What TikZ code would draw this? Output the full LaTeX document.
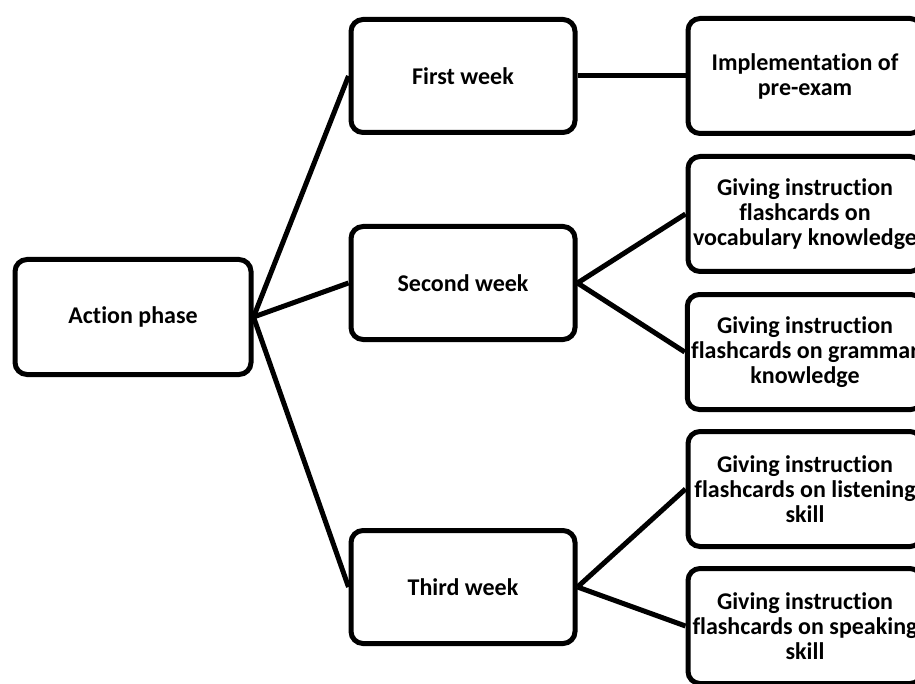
\documentclass[tikz,border=0pt]{standalone}
\usepackage{fontspec}
\setmainfont[Ligatures=NoCommon]{Carlito}
\usetikzlibrary{positioning}

\begin{document}
\begin{tikzpicture}[
  x=0.5pt, y=-0.5pt,
  box/.style={draw=black, line width=2.5pt, rounded corners=6pt, fill=white, align=center,
              font=\bfseries\fontsize{12}{12.5}\selectfont, inner sep=2pt},
  phasebox/.style={box, minimum width=118pt, minimum height=57.5pt},
  weekbox/.style={box, minimum width=112pt, minimum height=56.5pt},
  taskbox/.style={box, minimum width=117pt, minimum height=57.5pt},
  link/.style={line width=2.5pt, draw=black}
]
\clip (0,0) rectangle (915,684);
\fill[white] (0,0) rectangle (915,684);

% root
\node[phasebox] (action) at (133,317) {Action phase};

% weeks
\node[weekbox] (week1) at (463,76) {First week};
\node[weekbox] (week2) at (463,283) {Second week};
\node[weekbox] (week3) at (463,587) {Third week};

% tasks
\node[taskbox] (exam) at (805,76) {Implementation of\\pre-exam};
\node[taskbox] (vocab) at (805,214) {Giving instruction\\flashcards on\\vocabulary knowledge};
\node[taskbox] (gram) at (805,352) {Giving instruction\\flashcards on grammar\\knowledge};
\node[taskbox] (listen) at (805,489) {Giving instruction\\flashcards on listening\\skill};
\node[taskbox] (speak) at (805,626) {Giving instruction\\flashcards on speaking\\skill};

% connectors
\draw[link] (action.east) -- (week1.west);
\draw[link] (action.east) -- (week2.west);
\draw[link] (action.east) -- (week3.west);
\draw[link] (week1.east) -- (exam.west);
\draw[link] (week2.east) -- (vocab.west);
\draw[link] (week2.east) -- (gram.west);
\draw[link] (week3.east) -- (listen.west);
\draw[link] (week3.east) -- (speak.west);
\end{tikzpicture}
\end{document}
